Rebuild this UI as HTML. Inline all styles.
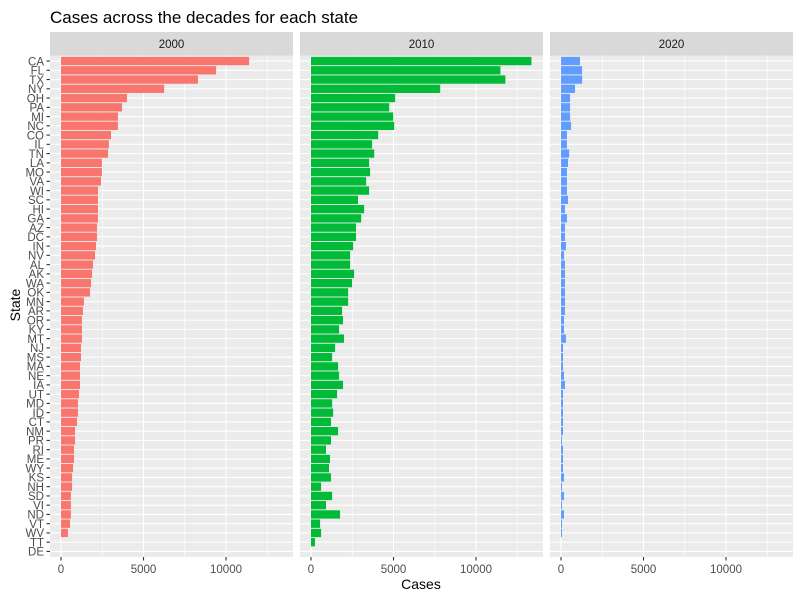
<!DOCTYPE html>
<html><head><meta charset="utf-8"><style>
body{margin:0;background:#fff;}
svg{display:block;font-family:"Liberation Sans",Arial,sans-serif;}
</style></head><body>
<svg id="chart" width="800" height="600" viewBox="0 0 800 600">
<text x="50" y="23" font-size="17" fill="#000">Cases across the decades for each state</text>
<text x="421" y="589" font-size="14" text-anchor="middle" fill="#000">Cases</text>
<text x="0" y="0" font-size="14" text-anchor="middle" fill="#000" transform="translate(20,305) rotate(-90)">State</text>
</svg>
<script>
const states = ["CA","FL","TX","NY","OH","PA","MI","NC","CO","IL","TN","LA","MO","VA","WI","SC","HI","GA","AZ","DC","IN","NV","AL","AK","WA","OK","MN","AR","OR","KY","MT","NJ","MS","MA","NE","IA","UT","MD","ID","CT","NM","PR","RI","ME","WY","KS","NH","SD","VI","ND","VT","WV","TT","DE"];
const decades = ["2000","2010","2020"];
const cases2000 = [11400,9400,8300,6250,4000,3700,3450,3450,3030,2900,2850,2480,2480,2420,2240,2240,2240,2240,2180,2180,2120,2060,1940,1880,1820,1760,1390,1330,1270,1270,1270,1210,1210,1150,1150,1150,1090,1030,1030,970,850,850,790,790,730,670,670,600,600,600,545,420,0,0];
const cases2010 = [13360,11480,11780,7830,5100,4740,4980,5040,4070,3700,3830,3520,3580,3340,3520,2850,3220,3040,2730,2730,2550,2370,2370,2610,2490,2250,2250,1880,1940,1700,2000,1460,1280,1640,1700,1940,1580,1280,1340,1210,1640,1210,910,1150,1090,1210,610,1280,910,1760,550,610,240,0];
const cases2020 = [1150,1280,1280,850,550,550,550,610,360,360,490,425,360,360,360,425,240,360,240,240,300,180,240,240,240,240,240,240,180,180,300,120,120,120,180,240,120,120,120,120,120,60,120,120,120,180,60,180,60,180,60,60,0,0];
const xTicks = [0,5000,10000];
const xTickLabels = ["0","5000","10000"];
const series = [cases2000, cases2010, cases2020];
const colors = ["#F8766D","#00BA38","#619CFF"];

const NS="http://www.w3.org/2000/svg";
const svgEl=document.getElementById('chart');
function mk(tag,attrs,parent){const e=document.createElementNS(NS,tag);for(const k in attrs)e.setAttribute(k,attrs[k]);(parent||svgEl).appendChild(e);return e;}
const panelX=[50,300,550], panelW=243, plotTop=55.5, plotBottom=557;
const xmin=-667, xmax=14060;
const nRows=states.length;
const step=(plotBottom-plotTop)/(nRows-1+1.2);
function yPos(i){return plotTop+(0.6+i)*step;}
function xScale(p,v){return panelX[p]+(v-xmin)/(xmax-xmin)*panelW;}

decades.forEach((d,p)=>{
  const g=mk('g',{});
  
  
  const bg=mk('rect',{x:panelX[p],y:plotTop,width:panelW,height:plotBottom-plotTop,fill:'#EBEBEB'},g);
  
  
  [2500,7500,12500].forEach(v=>{mk('line',{x1:xScale(p,v),x2:xScale(p,v),y1:plotTop,y2:plotBottom,stroke:'#fff','stroke-width':0.6},g);});
  xTicks.forEach(v=>{mk('line',{x1:xScale(p,v),x2:xScale(p,v),y1:plotTop,y2:plotBottom,stroke:'#fff','stroke-width':1.1},g);});
  states.forEach((s,i)=>{mk('line',{x1:panelX[p],x2:panelX[p]+panelW,y1:yPos(i),y2:yPos(i),stroke:'#fff','stroke-width':1.1},g);});
  const vals=series[p];
  vals.forEach((v,i)=>{
    if(v<=0)return;
    const x0=xScale(p,0);
    const r=mk('rect',{x:x0,y:yPos(i)-step*0.45,width:xScale(p,v)-x0,height:step*0.9,fill:colors[p]},g);
    
    
  });
  const strip=mk('rect',{x:panelX[p],y:32,width:panelW,height:23.5,fill:'#D9D9D9'},g);
  
  
  const st=mk('text',{x:panelX[p]+panelW/2,y:48,'font-size':11.5,'text-anchor':'middle',fill:'#1A1A1A'},g);
  st.textContent=d;
  
  
  xTicks.forEach((v,k)=>{
    const x=xScale(p,v);
    mk('line',{x1:x,x2:x,y1:plotBottom,y2:plotBottom+3.5,stroke:'#333','stroke-width':1.1},g);
    const t=mk('text',{x:x,y:plotBottom+16,'font-size':11.5,'text-anchor':'middle',fill:'#4D4D4D'},g);
    t.textContent=xTickLabels[k];
    
    
  });
});
states.forEach((s,i)=>{
  mk('line',{x1:46.5,x2:50,y1:yPos(i),y2:yPos(i),stroke:'#333','stroke-width':1.1});
  const t=mk('text',{x:44,y:yPos(i)+4.2,'font-size':11.5,'text-anchor':'end',fill:'#4D4D4D'});
  t.textContent=s;
  
  
});
</script>
</body></html>
